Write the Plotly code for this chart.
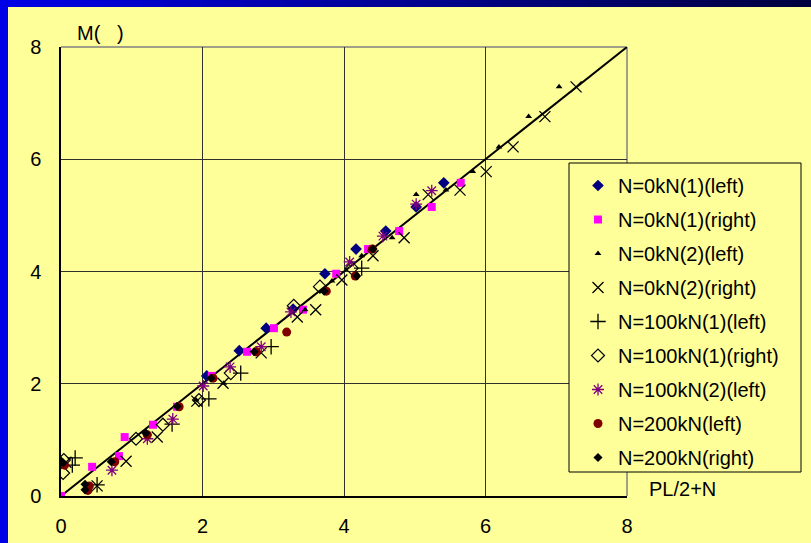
import plotly.graph_objects as go

# ---------------- data ----------------
n0_1_left_x = [2.06, 2.52, 2.90, 3.28, 3.73, 4.17, 4.59, 5.02, 5.41]
n0_1_left_y = [2.14, 2.59, 2.99, 3.33, 3.96, 4.40, 4.72, 5.15, 5.58]

n0_1_right_x = [0.00, 0.44, 0.82, 0.90, 1.30, 1.64, 2.13, 2.63, 3.01, 3.42, 3.89, 4.34, 4.78, 5.24, 5.65]
n0_1_right_y = [0.00, 0.52, 0.71, 1.05, 1.27, 1.59, 2.14, 2.57, 2.99, 3.32, 3.96, 4.40, 4.72, 5.15, 5.58]

n0_2_left_x = [1.91, 2.30, 3.45, 3.83, 4.25, 4.68, 5.02, 5.44, 5.82, 6.19, 6.61, 7.04]
n0_2_left_y = [1.71, 2.01, 3.32, 3.83, 4.28, 4.60, 5.37, 5.45, 5.78, 6.22, 6.76, 7.29]

n0_2_right_x = [0.07, 0.51, 0.92, 1.36, 1.92, 2.29, 2.83, 3.34, 3.60, 3.97, 4.41, 4.85, 5.19, 5.64, 6.01, 6.39, 6.84, 7.28]
n0_2_right_y = [0.60, 0.18, 0.62, 1.05, 1.69, 2.01, 2.55, 3.19, 3.32, 3.85, 4.28, 4.60, 5.37, 5.45, 5.78, 6.22, 6.76, 7.29]

n100_1_left_x = [0.20, 0.16, 0.51, 1.57, 2.09, 2.54, 2.97, 4.25]
n100_1_left_y = [0.68, 0.55, 0.20, 1.28, 1.73, 2.19, 2.66, 4.06]

n100_1_right_x = [0.03, 0.04, 1.06, 1.44, 1.95, 2.40, 3.29, 3.66, 4.11]
n100_1_right_y = [0.41, 0.64, 1.02, 1.27, 1.71, 2.19, 3.39, 3.73, 4.06]

n100_2_left_x = [0.72, 1.22, 1.58, 2.01, 2.39, 2.83, 3.25, 4.08, 4.55, 5.02, 5.24]
n100_2_left_y = [0.46, 1.02, 1.37, 1.96, 2.30, 2.66, 3.28, 4.17, 4.63, 5.20, 5.44]

n200_left_x = [0.05, 0.40, 0.38, 0.76, 1.22, 1.67, 2.15, 2.76, 3.19, 3.75, 4.16, 4.40]
n200_left_y = [0.55, 0.18, 0.10, 0.61, 1.09, 1.59, 2.10, 2.57, 2.92, 3.65, 3.92, 4.40]

n200_right_x = [0.00, 0.03, 0.34, 0.34, 0.71, 1.20, 1.64, 2.12, 2.73, 3.72, 4.18, 4.41]
n200_right_y = [0.62, 0.59, 0.21, 0.11, 0.61, 1.12, 1.60, 2.10, 2.57, 3.65, 3.92, 4.40]

line_x = [0, 8]
line_y = [0, 8]

tick_vals = [0, 2, 4, 6, 8]
tick_text = ["0", "2", "4", "6", "8"]

series_names = [
    "N=0kN(1)(left)", "N=0kN(1)(right)", "N=0kN(2)(left)", "N=0kN(2)(right)",
    "N=100kN(1)(left)", "N=100kN(1)(right)", "N=100kN(2)(left)",
    "N=200kN(left)", "N=200kN(right)",
]

# ---------------- styling ----------------
BG = "#FFFF99"
FONT = "Liberation Sans, Arial, sans-serif"

styles = [
    dict(symbol="diamond", color="#000080", size=9, line=dict(width=0)),
    dict(symbol="square", color="#FF00FF", size=8, line=dict(width=0)),
    dict(symbol="triangle-up", color="#000000", size=6, line=dict(width=0)),
    dict(symbol="x-thin", color="#000000", size=11, line=dict(width=1.3, color="#000000")),
    dict(symbol="cross-thin", color="#000000", size=11, line=dict(width=1.3, color="#000000")),
    dict(symbol="diamond-open", color="#000000", size=10, line=dict(width=1.2, color="#000000")),
    dict(symbol="asterisk", color="#800080", size=10, line=dict(width=1.3, color="#800080")),
    dict(symbol="circle", color="#800000", size=9, line=dict(width=0)),
    dict(symbol="diamond", color="#000000", size=7, line=dict(width=0)),
]

data = [
    (n0_1_left_x, n0_1_left_y), (n0_1_right_x, n0_1_right_y),
    (n0_2_left_x, n0_2_left_y), (n0_2_right_x, n0_2_right_y),
    (n100_1_left_x, n100_1_left_y), (n100_1_right_x, n100_1_right_y),
    (n100_2_left_x, n100_2_left_y),
    (n200_left_x, n200_left_y), (n200_right_x, n200_right_y),
]

fig = go.Figure()

fig.add_trace(go.Scatter(x=line_x, y=line_y, mode="lines",
                         line=dict(color="#000000", width=2),
                         showlegend=False, hoverinfo="skip"))

for i, ((xs, ys), name, st) in enumerate(zip(data, series_names, styles)):
    fig.add_trace(go.Scatter(
        x=xs, y=ys, mode="markers", name=name, legendgroup=f"g{i}",
        marker=dict(symbol=st["symbol"], color=st["color"], size=st["size"], line=st["line"]),
    ))

# geometry helpers (pixel -> paper)
L, R, T, B = 61, 184, 47, 47
W, H = 811, 543
PW, PH = W - L - R, H - T - B


def px(xp):
    return (xp - L) / PW


def py(yp):
    return (H - B - yp) / PH


shapes = []
# frame top / right (gray)
shapes.append(dict(type="line", xref="paper", yref="paper", x0=0, x1=1, y0=1, y1=1,
                   line=dict(color="#808080", width=1.5), layer="below"))
shapes.append(dict(type="line", xref="paper", yref="paper", x0=1, x1=1, y0=0, y1=1,
                   line=dict(color="#808080", width=1.5), layer="below"))
# legend box
shapes.append(dict(type="rect", xref="paper", yref="paper",
                   x0=px(569), x1=px(801), y0=py(472), y1=py(163),
                   fillcolor=BG, line=dict(color="#000000", width=1), layer="above"))
# blue frame: left strip and gradient top strip
shapes.append(dict(type="rect", xref="paper", yref="paper",
                   x0=px(-2), x1=px(8), y0=py(H + 2), y1=py(-2),
                   fillcolor="#0000E6", line=dict(width=0), layer="above"))
nseg = 40
for k in range(nseg):
    t = k / (nseg - 1)
    b = int(230 * (1 - t) + 64 * t)
    x0p = W * k / nseg
    x1p = W * (k + 1) / nseg + 1
    shapes.append(dict(type="rect", xref="paper", yref="paper",
                       x0=px(x0p), x1=px(x1p), y0=py(7), y1=py(-2),
                       fillcolor=f"rgb(0,0,{b})", line=dict(width=0), layer="above"))

annotations = [
    dict(text="M(\u00a0\u00a0\u00a0)", xref="paper", yref="paper", x=px(75), y=py(33),
         xanchor="left", yanchor="middle", showarrow=False,
         font=dict(family=FONT, size=20, color="#000000")),
    dict(text="PL/2+N", xref="paper", yref="paper", x=px(647), y=py(489),
         xanchor="left", yanchor="middle", showarrow=False,
         font=dict(family=FONT, size=20, color="#000000")),
]

fig.update_layout(
    width=W, height=H,
    margin=dict(l=L, r=R, t=T, b=B, pad=0, autoexpand=False),
    paper_bgcolor=BG, plot_bgcolor=BG,
    font=dict(family=FONT, size=20, color="#000000"),
    showlegend=True,
    legend=dict(
        x=px(578), y=py(166), xanchor="left", yanchor="top",
        bgcolor="rgba(0,0,0,0)", borderwidth=0,
        font=dict(family=FONT, size=20, color="#000000"),
        traceorder="grouped", tracegroupgap=5,
    ),
    shapes=shapes,
    annotations=annotations,
    xaxis=dict(range=[0, 8], tickvals=tick_vals, ticktext=tick_text,
               showgrid=True, gridcolor="#303030", gridwidth=1,
               showline=True, linecolor="#000000", linewidth=1.5,
               zeroline=False, ticks="", ticklabelstandoff=11, automargin=False,
               tickfont=dict(family=FONT, size=20, color="#000000")),
    yaxis=dict(range=[0, 8], tickvals=tick_vals, ticktext=tick_text,
               showgrid=True, gridcolor="#303030", gridwidth=1,
               showline=True, linecolor="#000000", linewidth=1.5,
               zeroline=False, ticks="", ticklabelstandoff=14, automargin=False,
               tickfont=dict(family=FONT, size=20, color="#000000")),
)

fig.write_html(
    "out.html",
    config={"displayModeBar": False},
    post_script="document.body.style.margin='0';document.body.style.overflow='hidden';",
)
